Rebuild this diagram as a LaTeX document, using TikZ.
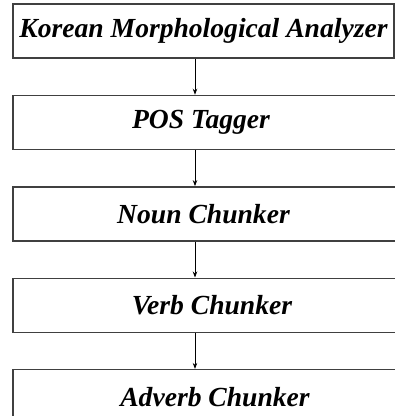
\documentclass[tikz,border=0pt]{standalone}
\usepackage{fontspec}
\setmainfont{Liberation Serif}
\usetikzlibrary{positioning,arrows.meta}

\begin{document}
\begin{tikzpicture}[x=1pt, y=1pt, node distance=36pt, >={Stealth[length=6pt,width=4.5pt]},
			stage/.style={draw=black!75, line width=1.4pt, rectangle, minimum width=381pt, minimum height=54pt, inner sep=0pt, font=\fontsize{27.6}{31}\selectfont\bfseries\itshape},
			wide/.style={minimum width=388pt},
			flow/.style={->, line width=0.8pt, color=black}
			]
			\useasboundingbox (0,0) rectangle (395,-416);
			\node[stage](m0) at (203.5,-31) {Korean Morphological Analyzer};
			\node[stage, wide](m1) [below = of m0.south west, anchor=north west] {\hspace*{-12pt}POS Tagger};
			\node[stage, wide](m2) [below = of m1.south west, anchor=north west] {\hspace*{-7pt}Noun Chunker};
			\node[stage, wide](m3) [below = of m2.south west, anchor=north west] {\hspace*{10pt}Verb Chunker};
			\node[stage, wide](m4) [below = of m3.south west, anchor=north west] {\hspace*{16pt}Adverb Chunker};
			
			\draw [flow] ([xshift=-8.5pt]m0.south) -- ([xshift=-8.5pt]m0.south |- m1.north);
			\draw [flow] ([xshift=-8.5pt]m0.south |- m1.south) -- ([xshift=-8.5pt]m0.south |- m2.north);
			\draw [flow] ([xshift=-8.5pt]m0.south |- m2.south) -- ([xshift=-8.5pt]m0.south |- m3.north);
			\draw [flow] ([xshift=-8.5pt]m0.south |- m3.south) -- ([xshift=-8.5pt]m0.south |- m4.north);
			\end{tikzpicture}
\end{document}
